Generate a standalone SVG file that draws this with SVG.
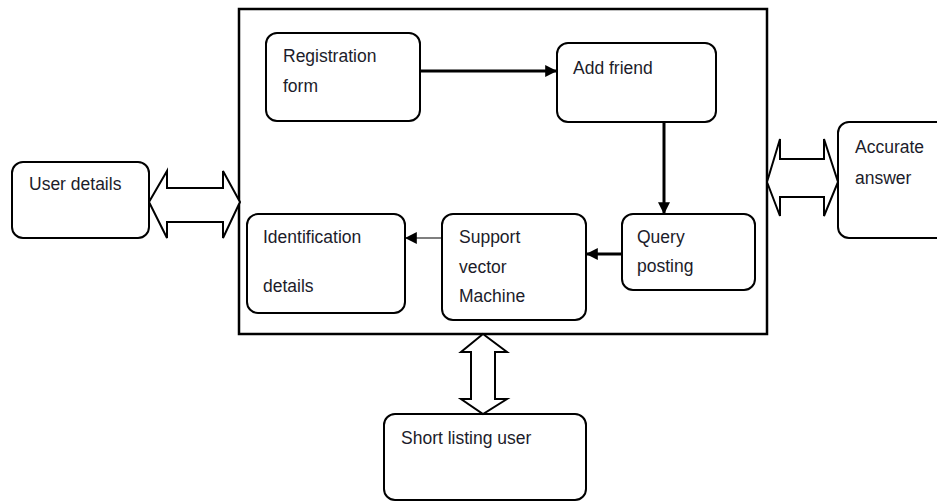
<svg xmlns="http://www.w3.org/2000/svg" width="937" height="503" viewBox="0 0 937 503">
  <style>
    .box { fill: #ffffff; stroke: #000000; stroke-width: 2; }
    .frame { fill: #ffffff; stroke: #000000; stroke-width: 2.5; }
    .dbl { fill: #ffffff; stroke: #000000; stroke-width: 2; stroke-linejoin: miter; }
    .lbl { font-family: "Liberation Sans", Arial, sans-serif; font-size: 17.5px; fill: #1c1c2a; }
    .flow { stroke: #000000; fill: none; }
  </style>
  <defs>
    <marker id="head" viewBox="0 0 10 10" refX="9" refY="5" markerWidth="4" markerHeight="4" orient="auto" markerUnits="strokeWidth">
      <path d="M0,0 L10,5 L0,10 z" fill="#000000"/>
    </marker>
    <marker id="headThin" viewBox="0 0 10 10" refX="9" refY="5" markerWidth="10" markerHeight="10" orient="auto" markerUnits="strokeWidth">
      <path d="M0,0 L10,5 L0,10 z" fill="#000000"/>
    </marker>
  </defs>

  <rect width="937" height="503" fill="#ffffff"/>

  <!-- system boundary -->
  <g id="system">
    <rect class="frame" x="239" y="9" width="528" height="325"/>
  </g>

  <!-- nodes -->
  <g id="user-details">
    <rect class="box" x="12" y="162" width="137" height="76" rx="11"/>
    <text class="lbl" x="29" y="190">User details</text>
  </g>

  <g id="registration-form">
    <rect class="box" x="266" y="33" width="154" height="88" rx="11"/>
    <text class="lbl" x="283" y="62">Registration</text>
    <text class="lbl" x="283" y="92">form</text>
  </g>

  <g id="add-friend">
    <rect class="box" x="557" y="43" width="159" height="79" rx="11"/>
    <text class="lbl" x="573" y="74">Add friend</text>
  </g>

  <g id="identification-details">
    <rect class="box" x="247" y="214" width="158" height="99" rx="11"/>
    <text class="lbl" x="263" y="243">Identification</text>
    <text class="lbl" x="263" y="292">details</text>
  </g>

  <g id="support-vector-machine">
    <rect class="box" x="442" y="214" width="144" height="106" rx="11"/>
    <text class="lbl" x="459" y="243">Support</text>
    <text class="lbl" x="459" y="273">vector</text>
    <text class="lbl" x="459" y="302">Machine</text>
  </g>

  <g id="query-posting">
    <rect class="box" x="622" y="214" width="133" height="76" rx="11"/>
    <text class="lbl" x="637" y="243">Query</text>
    <text class="lbl" x="637" y="272">posting</text>
  </g>

  <g id="accurate-answer">
    <rect class="box" x="838" y="122" width="120" height="116" rx="11"/>
    <text class="lbl" x="855" y="153">Accurate</text>
    <text class="lbl" x="855" y="184">answer</text>
  </g>

  <g id="short-listing-user">
    <rect class="box" x="384" y="414" width="202" height="86" rx="11"/>
    <text class="lbl" x="401" y="444">Short listing user</text>
  </g>

  <!-- connectors -->
  <g id="connectors">
    <!-- two-way block arrows -->
    <path class="dbl" d="M149,202 L167,171 L167,188 L223,188 L223,171 L240,202 L223,238 L223,222 L167,222 L167,238 Z"/>
    <path class="dbl" d="M767,182 L780,139 L780,159 L824,159 L824,139 L838,182 L824,216 L824,197 L780,197 L780,216 Z"/>
    <path class="dbl" d="M483,334 L507,352 L495,352 L495,399 L507,399 L483,414 L461,399 L471,399 L471,352 L461,352 Z"/>

    <!-- process flow -->
    <line class="flow" x1="420" y1="71" x2="556" y2="71" stroke-width="3" marker-end="url(#head)"/>
    <line class="flow" x1="664" y1="122" x2="664" y2="213" stroke-width="3" marker-end="url(#head)"/>
    <line class="flow" x1="622" y1="254" x2="587" y2="254" stroke-width="3" marker-end="url(#head)"/>
    <line class="flow" x1="442" y1="238" x2="406" y2="238" stroke-width="1.2" marker-end="url(#headThin)"/>
  </g>
</svg>
